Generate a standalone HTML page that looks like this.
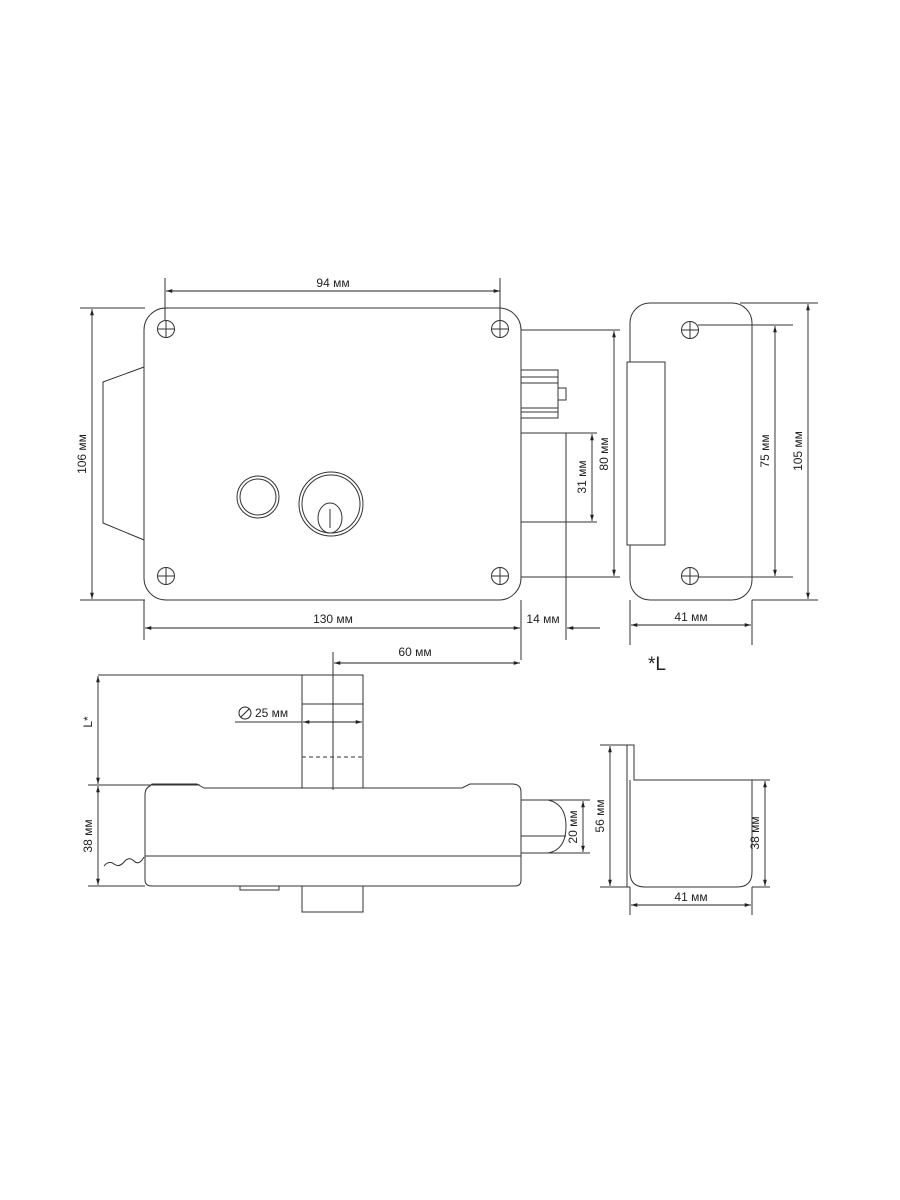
<!DOCTYPE html>
<html><head><meta charset="utf-8"><style>
html,body{margin:0;padding:0;background:#fff;}
svg{display:block}
text{font-family:"Liberation Sans",Arial,sans-serif;font-size:12px;fill:#222;}
</style></head><body>
<svg width="900" height="1200" viewBox="0 0 900 1200" xmlns="http://www.w3.org/2000/svg">
<defs>
<marker id="a" viewBox="0 0 10 10" refX="10" refY="5" markerWidth="7" markerHeight="7" orient="auto-start-reverse"><path d="M0,2 L10,5 L0,8 z" fill="#222"/></marker>
<g id="scr"><circle r="8.5" fill="none" stroke="#333" stroke-width="1"/><line x1="-8.5" y1="0" x2="8.5" y2="0" stroke="#333"/><line x1="0" y1="-8.5" x2="0" y2="8.5" stroke="#333"/></g>
</defs>
<g fill="none" stroke="#333" stroke-width="1">
<!-- front view -->
<rect x="144" y="308" width="377" height="292" rx="22"/>
<path d="M144,367 L103,382 L103,523 L144,540"/>
<use href="#scr" x="166" y="329"/><use href="#scr" x="500" y="329"/>
<use href="#scr" x="166" y="576"/><use href="#scr" x="500" y="576"/>
<circle cx="258" cy="497" r="21"/><circle cx="258" cy="497" r="18"/>
<circle cx="331" cy="504" r="32"/><circle cx="331" cy="504" r="29"/>
<ellipse cx="330" cy="518" rx="12" ry="15"/>
<path d="M330,509 L330,528"/>
<rect x="521" y="370" width="37" height="48"/>
<rect x="558" y="388" width="8" height="12"/>
<path d="M521,377 H558 M521,383 H558 M521,408 H558 M521,412 H558"/>
<path d="M521,433 H597 M521,522 H597 M566,433 V640"/>
<path d="M521,330 H620 M521,577 H620"/>
<path d="M80,308 H145 M80,600 H145"/>
<path d="M165,278 V320 M500,278 V320"/>
<path d="M144,600 V640 M521,600 V660"/>
</g>
<g stroke="#222" stroke-width="0.9" fill="none">
<line x1="166" y1="291" x2="500" y2="291" marker-start="url(#a)" marker-end="url(#a)"/>
<line x1="92" y1="309" x2="92" y2="599" marker-start="url(#a)" marker-end="url(#a)"/>
<line x1="145" y1="628" x2="520" y2="628" marker-start="url(#a)" marker-end="url(#a)"/>
<line x1="600" y1="628" x2="567" y2="628" marker-end="url(#a)"/>
<line x1="592" y1="434" x2="592" y2="521" marker-start="url(#a)" marker-end="url(#a)"/>
<line x1="614" y1="331" x2="614" y2="576" marker-start="url(#a)" marker-end="url(#a)"/>
</g>
<text x="333" y="287" text-anchor="middle">94 мм</text>
<text x="333" y="623" text-anchor="middle">130 мм</text>
<text x="543" y="623" text-anchor="middle">14 мм</text>
<text transform="translate(86,454) rotate(-90)" text-anchor="middle">106 мм</text>
<text transform="translate(586,477) rotate(-90)" text-anchor="middle">31 мм</text>
<text transform="translate(608,454) rotate(-90)" text-anchor="middle">80 мм</text>

<!-- strike plate -->
<g fill="none" stroke="#333" stroke-width="1">
<rect x="630" y="303" width="122" height="297" rx="20"/>
<rect x="627" y="362" width="38" height="183" fill="#fff"/>
<use href="#scr" x="690" y="330"/><use href="#scr" x="690" y="576"/>
<path d="M698,325 H793 M698,577 H793 M740,303 H818 M752,600 H818"/>
<path d="M630,600 V645 M752,600 V645"/>
</g>
<g stroke="#222" stroke-width="0.9" fill="none">
<line x1="775" y1="326" x2="775" y2="576" marker-start="url(#a)" marker-end="url(#a)"/>
<line x1="808" y1="304" x2="808" y2="599" marker-start="url(#a)" marker-end="url(#a)"/>
<line x1="631" y1="625" x2="751" y2="625" marker-start="url(#a)" marker-end="url(#a)"/>
</g>
<text transform="translate(769,451) rotate(-90)" text-anchor="middle">75 мм</text>
<text transform="translate(802,451) rotate(-90)" text-anchor="middle">105 мм</text>
<text x="691" y="621" text-anchor="middle">41 мм</text>
<text x="648" y="670" style="font-size:19px">*L</text>

<!-- bottom view -->
<g fill="none" stroke="#333" stroke-width="1">
<path d="M302,788 V675 H363 V788 M302,704 H363 M333,652 V790"/>
<path d="M302,757 H363" stroke-dasharray="4,3"/>
<path d="M302,886 V912 H363 V886"/>
<path d="M150,786 Q145,788 145,795 V880 Q145,886 152,886 H515 Q521,886 521,880 V792 Q521,784 512,784 H470 L462,788 H204 L197,784 H152 Z"/>
<path d="M145,856 H521"/>
<rect x="240" y="886" width="39" height="4"/>
<path d="M104,866 q5,-6 10,-2 t10,-2 t10,-1 t10,-4"/>
<path d="M521,800 H548 Q566,804 566,826 Q566,850 548,853 H521 M521,836 H566"/>
<path d="M521,800 H590 M521,853 H590"/>
<path d="M98,675 H302 M88,785 H200 M88,886 H145"/>
<path d="M235,722 H302"/>
</g>
<g stroke="#222" stroke-width="0.9" fill="none">
<line x1="334" y1="663" x2="520" y2="663" marker-start="url(#a)" marker-end="url(#a)"/>
<line x1="303" y1="722" x2="362" y2="722" marker-start="url(#a)" marker-end="url(#a)"/>
<line x1="98" y1="676" x2="98" y2="784" marker-start="url(#a)" marker-end="url(#a)"/>
<line x1="98" y1="786" x2="98" y2="885" marker-start="url(#a)" marker-end="url(#a)"/>
<line x1="583" y1="801" x2="583" y2="852" marker-start="url(#a)" marker-end="url(#a)"/>
</g>
<circle cx="245" cy="713" r="6" fill="none" stroke="#222"/><line x1="241" y1="717" x2="249" y2="709" stroke="#222"/>
<text x="255" y="717">25 мм</text>
<text x="415" y="656" text-anchor="middle">60 мм</text>
<text transform="translate(92,722) rotate(-90)" text-anchor="middle">L*</text>
<text transform="translate(92,836) rotate(-90)" text-anchor="middle">38 мм</text>
<text transform="translate(577,827) rotate(-90)" text-anchor="middle">20 мм</text>

<!-- strike side view -->
<g fill="none" stroke="#333" stroke-width="1">
<path d="M627,745 H634 V780 H752 V872 Q752,887 737,887 H645 Q630,887 630,872 V780 M627,745 V887"/>
<path d="M600,745 H627 M600,887 H630 M752,780 H770 M752,887 H770 M630,887 V915 M752,887 V915"/>
</g>
<g stroke="#222" stroke-width="0.9" fill="none">
<line x1="610" y1="746" x2="610" y2="886" marker-start="url(#a)" marker-end="url(#a)"/>
<line x1="765" y1="781" x2="765" y2="886" marker-start="url(#a)" marker-end="url(#a)"/>
<line x1="631" y1="905" x2="751" y2="905" marker-start="url(#a)" marker-end="url(#a)"/>
</g>
<text transform="translate(604,816) rotate(-90)" text-anchor="middle">56 мм</text>
<text transform="translate(759,833) rotate(-90)" text-anchor="middle">38 мм</text>
<text x="691" y="901" text-anchor="middle">41 мм</text>
</svg>
</body></html>
